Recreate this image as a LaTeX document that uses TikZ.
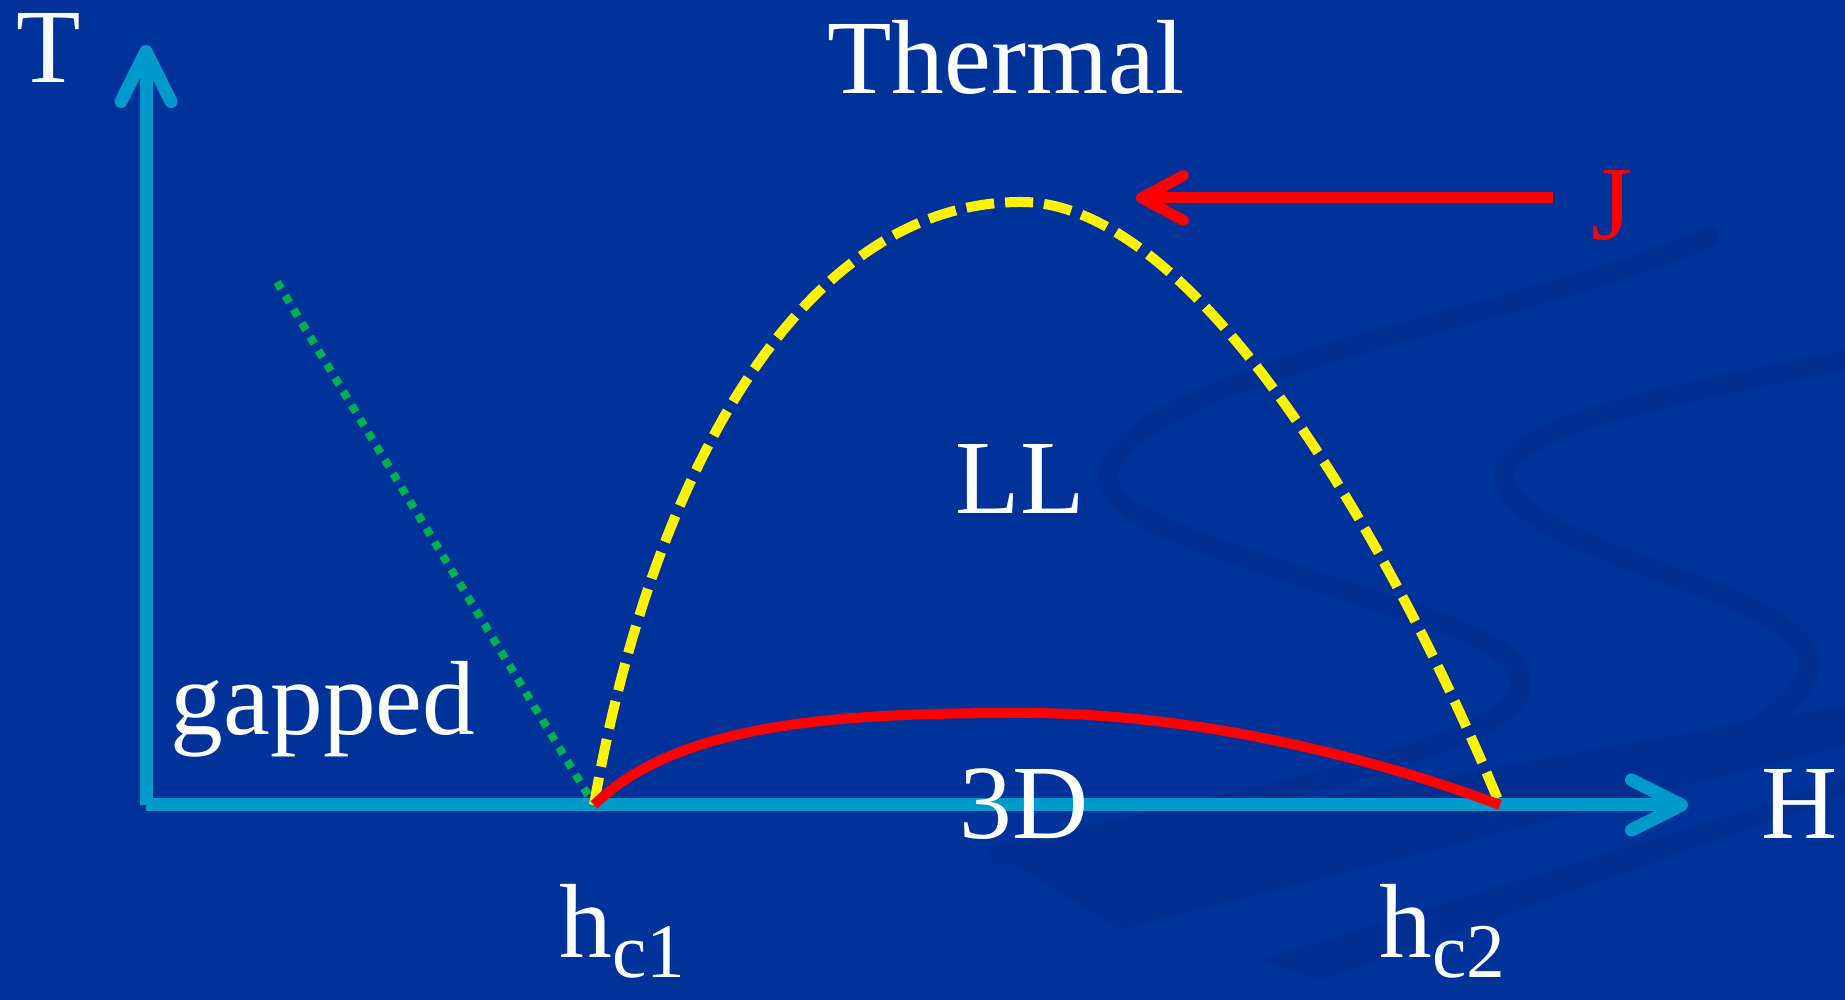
\documentclass[tikz,border=0pt]{standalone}
\usepackage{fontspec}
\setmainfont{Liberation Serif}
\usetikzlibrary{arrows.meta}
\definecolor{bgblue}{RGB}{0,51,153}
\definecolor{swirlcolor}{RGB}{0,47,145}
\definecolor{axisblue}{RGB}{0,153,204}
\definecolor{gapgreen}{RGB}{0,176,80}
\tikzset{
    phasediag/.style={
        line cap = round, line join = round,
        every node/.style={text=white, inner sep=0pt,
          font=\fontsize{30}{36}\selectfont},
    },
    axisline/.style={axisblue, line width=0.13cm, line cap=butt,
        -{Straight Barb[round,length=0.5cm,width=0.5cm]}},
    llcurve/.style={yellow, line width=0.1cm, line cap=butt,
        dash pattern=on 0.28cm off 0.11cm},
    ordcurve/.style={red, line width=0.1cm, line cap=butt},
    gapline/.style={gapgreen, line width=0.08cm, line cap=butt,
        dash pattern=on 0.08cm off 0.08cm},
    jarrow/.style={red, line width=0.11cm, line cap=butt,
        -{Straight Barb[round,length=0.42cm,width=0.45cm]}},
    swirl/.style={swirlcolor, line width=0.2cm},
}
\newcommand{\critlabel}[1]{h\raisebox{-0.2cm}{\fontsize{22}{24}\selectfont c#1}}

\begin{document}
\begin{tikzpicture}
        [phasediag]
        \fill[bgblue] (0,0) rectangle (18.45,10);
        \useasboundingbox (0,0) rectangle (18.45,10);
        % background swirls
        \fill[swirlcolor] (10.0,1.45) -- (18.45,2.95) -- (18.45,2.55) -- (11.2,0.7) -- cycle;
        \fill[swirlcolor] (12.6,0.4) -- (18.45,2.2) -- (18.45,2.05) -- (13.2,0.2) -- cycle;
        \draw[swirl] (17.09,7.63) .. controls (15.5,6.9) and (12.0,6.4) .. (11.2,5.5)
            .. controls (10.8,5.0) and (11.5,4.75) .. (12.5,4.4)
            .. controls (14.3,3.8) and (15.3,3.6) .. (15.2,3.1)
            .. controls (15.1,2.6) and (13.0,2.1) .. (10.0,1.45);
        \draw[swirl] (18.45,6.40) .. controls (17.0,6.1) and (15.2,5.8) .. (15.05,5.3)
            .. controls (14.95,4.85) and (16.0,4.5) .. (17.1,4.1)
            .. controls (18.1,3.7) and (18.3,3.4) .. (17.9,3.0)
            .. controls (17.6,2.7) and (17.3,2.6) .. (17.1,2.5);

        \coordinate (o) at (1.46,1.95);
        \coordinate (hc1pt) at (5.94,1.95);
        \coordinate (hc2pt) at (15.00,1.95);
        \coordinate (peak) at (10.21,7.98);
        \coordinate (ordtop) at (10.24,2.87);
        \coordinate (gtop) at (2.77,7.18);
        \coordinate (jtail) at (15.53,8.02);
        \coordinate (jtip) at (11.36,8.02);

        \node[anchor=base] (T) at (0.49,9.17) {T};
        \node[anchor=base] (H) at (18.00,1.61) {H};
        \node[anchor=base] (thermal) at (10.06,9.06) {Thermal};
        \node[anchor=base, text=red] (J) at (16.12,7.60) {J};
        \node[anchor=base] (LL) at (10.20,4.86) {LL};
        \node[anchor=base] (gapped) at (3.23,2.65) {gapped};
        \node[anchor=base west] (hc1) at (5.59,0.42) {\critlabel{1}};
        \node[anchor=base west] (hc2) at (13.79,0.42) {\critlabel{2}};

        \draw[axisline] (o) -- (1.46,9.55);
        \draw[axisline] (o) -- (16.88,1.95);
        \node[anchor=base] (3D) at (10.24,1.61) {3D};

        \draw[gapline] (gtop) -- (hc1pt);
        \draw[llcurve] (hc1pt) .. controls (6.50,5.20) and (8.00,7.98) .. (peak)
            .. controls (12.00,7.98) and (14.00,4.40) .. (hc2pt);
        \draw[ordcurve] (hc1pt) .. controls (6.80,2.80) and (8.50,2.87) .. (ordtop)
            .. controls (12.00,2.87) and (13.80,2.40) .. (hc2pt);
        \draw[jarrow] (jtail) -- (jtip);
    \end{tikzpicture}
\end{document}
